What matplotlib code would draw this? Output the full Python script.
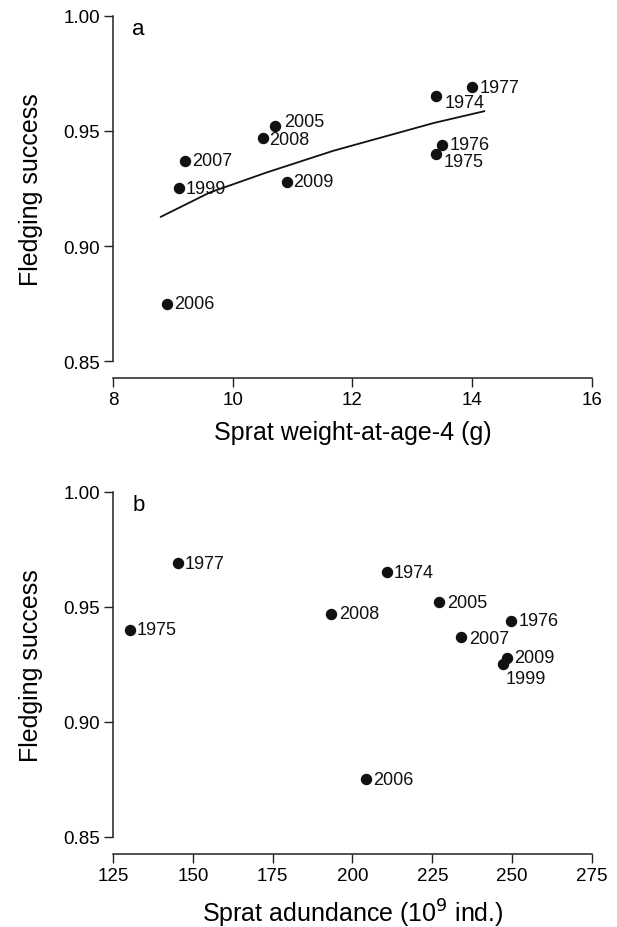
import numpy as np
import matplotlib.pyplot as plt

plt.rcParams['font.family'] = ['Liberation Sans', 'DejaVu Sans']

# fledging success per year
years = ['1974', '1975', '1976', '1977', '1999', '2005', '2006', '2007', '2008', '2009']
success = [0.965, 0.940, 0.944, 0.969, 0.925, 0.952, 0.875, 0.937, 0.947, 0.928]
# sprat weight-at-age-4 (g)
weight = [13.4, 13.4, 13.5, 14.0, 9.1, 10.7, 8.9, 9.2, 10.5, 10.9]
# sprat abundance (10^9 ind.)
abundance = [210.7, 130.2, 249.7, 145.4, 247.0, 227.2, 204.3, 234.1, 193.4, 248.5]

# fitted curve in panel a
curve_x = [8.80, 9.62, 10.57, 11.68, 13.36, 14.20]
curve_y = [0.9127, 0.9233, 0.9320, 0.9414, 0.9535, 0.9586]

# label offsets (pixels) for each year
offs_a = {'1974': (8, -6), '1975': (7, -8), '2005': (9, 5), '2008': (6, -2)}
offs_b = {'1999': (3, -14), '2007': (8, -2), '2005': (8, 0), '2008': (8, 0)}

fig = plt.figure(figsize=(6.17, 9.28), dpi=100)
ax_a = fig.add_axes([0.1831, 0.6099, 0.7764, 0.3718])
ax_b = fig.add_axes([0.1831, 0.0970, 0.7764, 0.3718])


def style(ax, xlim, xticks, xlabel, letter):
    ax.set_xlim(*xlim)
    ax.set_ylim(0.85, 1.0)
    ax.set_xticks(xticks)
    ax.set_yticks([0.85, 0.90, 0.95, 1.00])
    ax.set_yticklabels(['0.85', '0.90', '0.95', '1.00'])
    for s in ['top', 'right']:
        ax.spines[s].set_visible(False)
    ax.spines['bottom'].set_position(('outward', 12))
    ax.spines['left'].set_bounds(0.85, 1.0)
    for s in ['bottom', 'left']:
        ax.spines[s].set_linewidth(1.1)
        ax.spines[s].set_color('#222222')
    ax.tick_params(length=6.5, width=1.0, labelsize=13.5, color='#222222', pad=3)
    ax.set_xlabel(xlabel, fontsize=18, labelpad=9)
    ax.set_ylabel('Fledging success', fontsize=18)
    ax.yaxis.set_label_coords(-0.146, 0.5)
    ax.text(0.04, 0.965, letter, transform=ax.transAxes, fontsize=16,
            va='center', ha='left')


style(ax_a, (8, 16), [8, 10, 12, 14, 16], 'Sprat weight-at-age-4 (g)', 'a')
style(ax_b, (125, 275), [125, 150, 175, 200, 225, 250, 275],
      'Sprat adundance (10$^{9}$ ind.)', 'b')

ax_a.plot(curve_x, curve_y, color='#111111', lw=1.3, zorder=2)

for ax, xs, offs in [(ax_a, weight, offs_a), (ax_b, abundance, offs_b)]:
    ax.scatter(xs, success, s=52, color='#111111', zorder=3, clip_on=False)
    for yr, x, y in zip(years, xs, success):
        dx, dy = offs.get(yr, (7, 0))
        ax.annotate(yr, (x, y), xytext=(dx, dy), textcoords='offset pixels',
                    fontsize=13, va='center', ha='left', color='#111111')

fig.savefig('out.png', dpi=100)
